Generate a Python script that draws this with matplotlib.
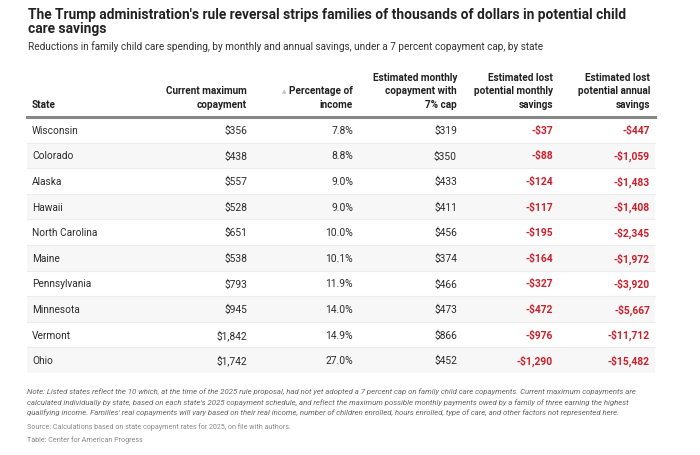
import matplotlib
matplotlib.use("Agg")
import matplotlib.pyplot as plt
from matplotlib.patches import Rectangle

# ---- data ----
states = ["Wisconsin", "Colorado", "Alaska", "Hawaii", "North Carolina",
          "Maine", "Pennsylvania", "Minnesota", "Vermont", "Ohio"]
current_max = ["$356", "$438", "$557", "$528", "$651", "$538", "$793", "$945", "$1,842", "$1,742"]
pct_income = ["7.8%", "8.8%", "9.0%", "9.0%", "10.0%", "10.1%", "11.9%", "14.0%", "14.9%", "27.0%"]
est_monthly = ["$319", "$350", "$433", "$411", "$456", "$374", "$466", "$473", "$866", "$452"]
lost_monthly = ["-$37", "-$88", "-$124", "-$117", "-$195", "-$164", "-$327", "-$472", "-$976", "-$1,290"]
lost_annual = ["-$447", "-$1,059", "-$1,483", "-$1,408", "-$2,345", "-$1,972", "-$3,920", "-$5,667", "-$11,712", "-$15,482"]
headers = ["State", "Current maximum\ncopayment", "Percentage of\nincome",
           "Estimated monthly\ncopayment with\n7% cap", "Estimated lost\npotential monthly\nsavings",
           "Estimated lost\npotential annual\nsavings"]

title = "The Trump administration's rule reversal strips families of thousands of dollars in potential child\ncare savings"
subtitle = "Reductions in family child care spending, by monthly and annual savings, under a 7 percent copayment cap, by state"
note = ("Note: Listed states reflect the 10 which, at the time of the 2025 rule proposal, had not yet adopted a 7 percent cap on family child care copayments. Current maximum copayments are\n"
        "calculated individually by state, based on each state's 2025 copayment schedule, and reflect the maximum possible monthly payments owed by a family of three earning the highest\n"
        "qualifying income. Families' real copayments will vary based on their real income, number of children enrolled, hours enrolled, type of care, and other factors not represented here.")
source = "Source: Calculations based on state copayment rates for 2025, on file with authors."
credit = "Table: Center for American Progress"

FONT = ["Roboto", "DejaVu Sans"]
plt.rcParams['font.family'] = FONT

W, H = 700, 456
fig = plt.figure(figsize=(W / 100, H / 100), dpi=100)
ax = fig.add_axes([0, 0, 1, 1])
ax.set_xlim(0, W)
ax.set_ylim(H, 0)
ax.axis("off")

left, right = 27, 655
top_line = 118
row_h = 25.6
col_right = [None, 247, 353, 457, 553, 650]
state_x = 32

# title and subtitle
ax.text(28, 15, title.split("\n")[0], fontsize=9.9, fontweight="bold", color="#222222",
        va="center", ha="left")
ax.text(28, 29, title.split("\n")[1], fontsize=9.9, fontweight="bold", color="#222222",
        va="center", ha="left")
ax.text(28, 47, subtitle, fontsize=7.2, color="#333333", va="center", ha="left")

# headers
for i, h in enumerate(headers):
    x = state_x if i == 0 else col_right[i]
    ha = "left" if i == 0 else "right"
    ax.text(x, 110, h, fontsize=7.2, fontweight="bold", color="#222222",
            ha=ha, va="bottom", linespacing=1.45)
# sort indicator
ax.text(284, 91.5, "▲", fontsize=4.2, color="#c4c4c4", ha="center", va="center",
        family=["DejaVu Sans"])

# rows
cols = [current_max, pct_income, est_monthly, lost_monthly, lost_annual]
for r, st in enumerate(states):
    y0 = top_line + r * row_h
    if r % 2 == 1:
        ax.add_patch(Rectangle((left, y0), right - left, row_h, facecolor="#f7f7f7",
                               edgecolor="none", zorder=0))
    if r > 0:
        ax.plot([left, right], [y0, y0], color="#ececec", lw=0.8, zorder=1)
    yc = y0 + row_h / 2
    ax.text(state_x, yc, st, fontsize=7.3, color="#2b2b2b", ha="left", va="center")
    for c, vals in enumerate(cols):
        red = c >= 3
        ax.text(col_right[c + 1], yc, vals[r], fontsize=7.4,
                color="#cc1f2b" if red else "#2b2b2b",
                fontweight="bold" if red else "normal",
                ha="right", va="center")

ax.plot([left, right], [top_line, top_line], color="#888888", lw=2.2, zorder=2)

# footer
for k, line in enumerate(note.split("\n")):
    ax.text(27, 392 + k * 10.5, line, fontsize=5.6, style="italic", color="#666666",
            ha="left", va="center")
ax.text(27, 427, source, fontsize=5.1, color="#888888", ha="left", va="center")
ax.text(27, 440, credit, fontsize=5.1, color="#888888", ha="left", va="center")

fig.savefig("out.png", dpi=100, facecolor="white")
